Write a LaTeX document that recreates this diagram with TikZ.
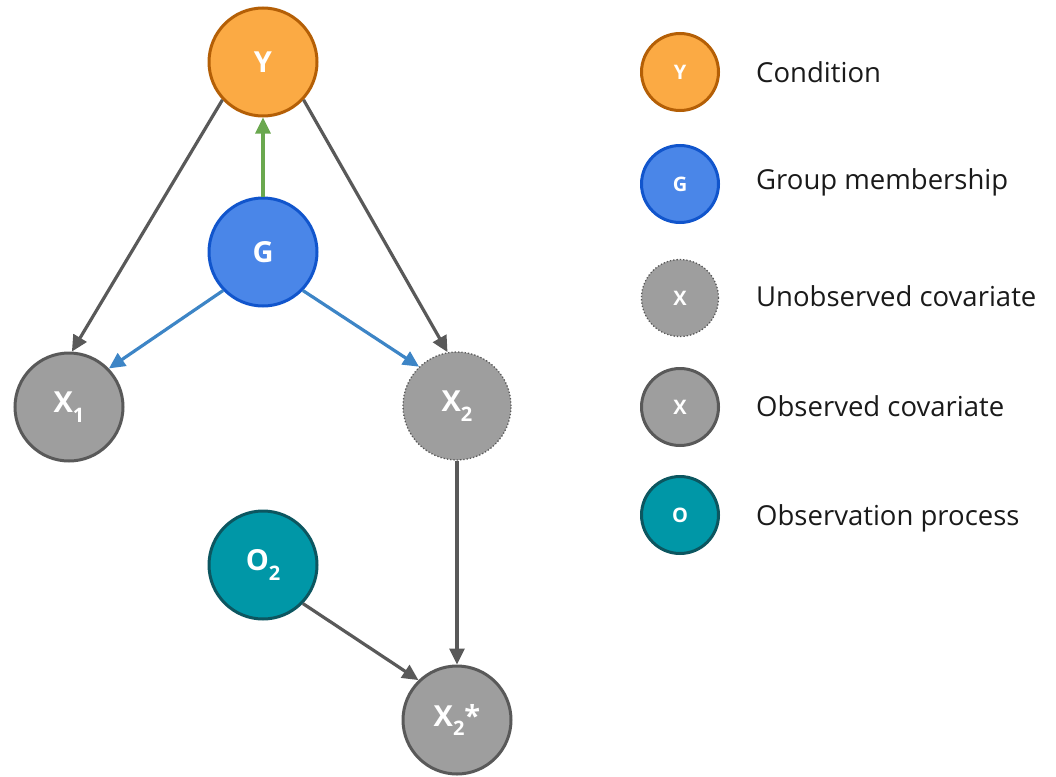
\documentclass[tikz,border=0pt]{standalone}
\usepackage{fontspec}
\setmainfont{Open Sans}
\usetikzlibrary{arrows.meta}
\definecolor{condfill}{HTML}{FBAA44}
\definecolor{conddraw}{HTML}{B45F06}
\definecolor{groupfill}{HTML}{4A86E8}
\definecolor{groupdraw}{HTML}{1155CC}
\definecolor{covfill}{HTML}{9E9E9E}
\definecolor{covdraw}{HTML}{595959}
\definecolor{obsfill}{HTML}{0097A7}
\definecolor{obsdraw}{HTML}{0C5660}
\definecolor{greenarrow}{HTML}{6AA84F}
\definecolor{bluearrow}{HTML}{3D85C6}
\definecolor{keytext}{HTML}{1A1A1A}
\newcommand{\lowidx}[1]{\raisebox{-0.6ex}{\fontsize{20}{20}\selectfont #1}}

\begin{document}
\begin{tikzpicture}[
  x=1pt,y=-1pt,
  var/.style={circle,draw,line width=3pt,minimum size=108pt,inner sep=0pt,text=white,font=\bfseries\fontsize{29}{29}\selectfont},
  keyvar/.style={circle,draw,line width=3pt,minimum size=77pt,inner sep=0pt,text=white,font=\bfseries\fontsize{20}{20}\selectfont},
  cond/.style={fill=condfill,draw=conddraw},
  group/.style={fill=groupfill,draw=groupdraw},
  obscov/.style={fill=covfill,draw=covdraw},
  hidcov/.style={fill=covfill,draw=covdraw,line width=1.3pt,dotted},
  obsproc/.style={fill=obsfill,draw=obsdraw},
  keylabel/.style={anchor=west,inner sep=0pt,text=keytext,font=\fontsize{27.5}{27.5}\selectfont},
  edge/.style={line width=3.2pt,draw=covdraw,-{Triangle[length=16pt,width=15pt]}}
]
  \useasboundingbox (0,0) rectangle (1056,776);

  \node[var,cond]    (Y)   at (263,62)  {Y};
  \node[var,group]   (G)   at (263,252) {G};
  \node[var,obscov]  (X1)  at (69,407)  {X\lowidx{1}};
  \node[var,hidcov]  (X2)  at (457,406) {X\lowidx{2}};
  \node[var,obsproc] (O2)  at (263,565) {O\lowidx{2}};
  \node[var,obscov]  (X2s) at (457,720) {X\lowidx{2}*};

  \draw[edge] (Y.223) -- (X1.87);
  \draw[edge] (Y.317) -- (X2.100);
  \draw[edge,draw=greenarrow] (G.north) -- (Y.south);
  \draw[edge,draw=bluearrow] (G.224) -- (X1.44);
  \draw[edge,draw=bluearrow] (G.316) -- (X2.134);
  \draw[edge] (X2.south) -- (X2s.north);
  \draw[edge] (O2.316) -- (X2s.134);

  \node[keyvar,cond]    (kY) at (680,72)  {Y};
  \node[keyvar,group]   (kG) at (680,184) {G};
  \node[keyvar,hidcov]  (kU) at (680,298) {X};
  \node[keyvar,obscov]  (kX) at (680,407) {X};
  \node[keyvar,obsproc] (kO) at (680,515) {O};

  \node[keylabel] (lY) at (756,72)  {Condition};
  \node[keylabel] (lG) at (756,182) {Group membership};
  \node[keylabel] (lU) at (756,296) {Unobserved covariate};
  \node[keylabel] (lX) at (756,406) {Observed covariate};
  \node[keylabel] (lO) at (756,518) {Observation process};
\end{tikzpicture}
\end{document}
